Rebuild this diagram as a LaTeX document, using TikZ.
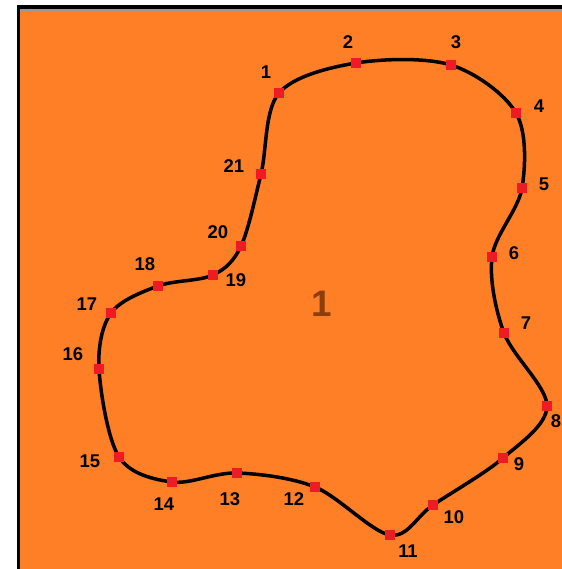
\documentclass[tikz,border=0pt]{standalone}
\usepackage{fontspec}
\setmainfont{Liberation Sans}
\usepackage{xcolor}
\usepackage{tikz}

\definecolor{paintorange}{RGB}{255,127,39}
\definecolor{paintred}{RGB}{237,28,36}
\definecolor{regionbrown}{RGB}{138,62,12}

\begin{document}
\begin{tikzpicture}[
  x=0.02cm, y=-0.02cm,
  font=\bfseries\fontsize{10.5}{12}\selectfont,
  vertex/.style={draw=none, fill=paintred, minimum size=0.21cm,
    inner sep=0pt},
  tag/.style={inner sep=0pt, text=black},
  boundary/.style={line width=2pt, draw=black, line join=round},
  region/.style={font=\bfseries\fontsize{21}{24}\selectfont,
    text=regionbrown, inner sep=0pt}
]
\useasboundingbox (0,0) rectangle (562,569);
\clip (0,0) rectangle (562,569);

% frame and background
\fill[white] (0,0) rectangle (562,569);
\fill[paintorange] (19,10) rectangle (562,569);
\fill[black] (17,5) rectangle (20,569);
\fill[black] (17,5) rectangle (562,9);
\fill[black!40] (20,9) rectangle (562,11);

% points of the boundary
\coordinate (p1) at (279,93);
\coordinate (p2) at (356,63);
\coordinate (p3) at (451,65);
\coordinate (p4) at (516,113);
\coordinate (p5) at (522,188);
\coordinate (p6) at (492,257);
\coordinate (p7) at (504,333);
\coordinate (p8) at (547,406);
\coordinate (p9) at (503,458);
\coordinate (p10) at (433,505);
\coordinate (p11) at (390,535);
\coordinate (p12) at (315,487);
\coordinate (p13) at (237,473);
\coordinate (p14) at (172,482);
\coordinate (p15) at (119,457);
\coordinate (p16) at (99,369);
\coordinate (p17) at (111,313);
\coordinate (p18) at (158,286);
\coordinate (p19) at (213,275);
\coordinate (p20) at (241,246);
\coordinate (p21) at (261,174);

\draw[boundary] plot[smooth cycle, tension=0.55] coordinates {
  (p1) (p2) (p3) (p4) (p5) (p6) (p7) (p8) (p9) (p10) (p11)
  (p12) (p13) (p14) (p15) (p16) (p17) (p18) (p19) (p20) (p21)};

\foreach \i in {1,...,21}
  \node[vertex] (v\i) at (p\i) {};

% point numbers
\node[tag] (t1) at (266,72) {1};
\node[tag] (t2) at (348,42) {2};
\node[tag] (t3) at (456,42) {3};
\node[tag] (t4) at (539,106) {4};
\node[tag] (t5) at (544,184) {5};
\node[tag] (t6) at (514,253) {6};
\node[tag] (t7) at (526,323) {7};
\node[tag] (t8) at (556,421) {8};
\node[tag] (t9) at (519,464) {9};
\node[tag] (t10) at (454,517) {10};
\node[tag] (t11) at (408,551) {11};
\node[tag] (t12) at (294,499) {12};
\node[tag] (t13) at (230,499) {13};
\node[tag] (t14) at (164,504) {14};
\node[tag] (t15) at (90,461) {15};
\node[tag] (t16) at (73,354) {16};
\node[tag] (t17) at (87,304) {17};
\node[tag] (t18) at (145,264) {18};
\node[tag] (t19) at (236,280) {19};
\node[tag] (t20) at (218,232) {20};
\node[tag] (t21) at (234,166) {21};

\node[region] (r1) at (322,304) {1};
\end{tikzpicture}
\end{document}
